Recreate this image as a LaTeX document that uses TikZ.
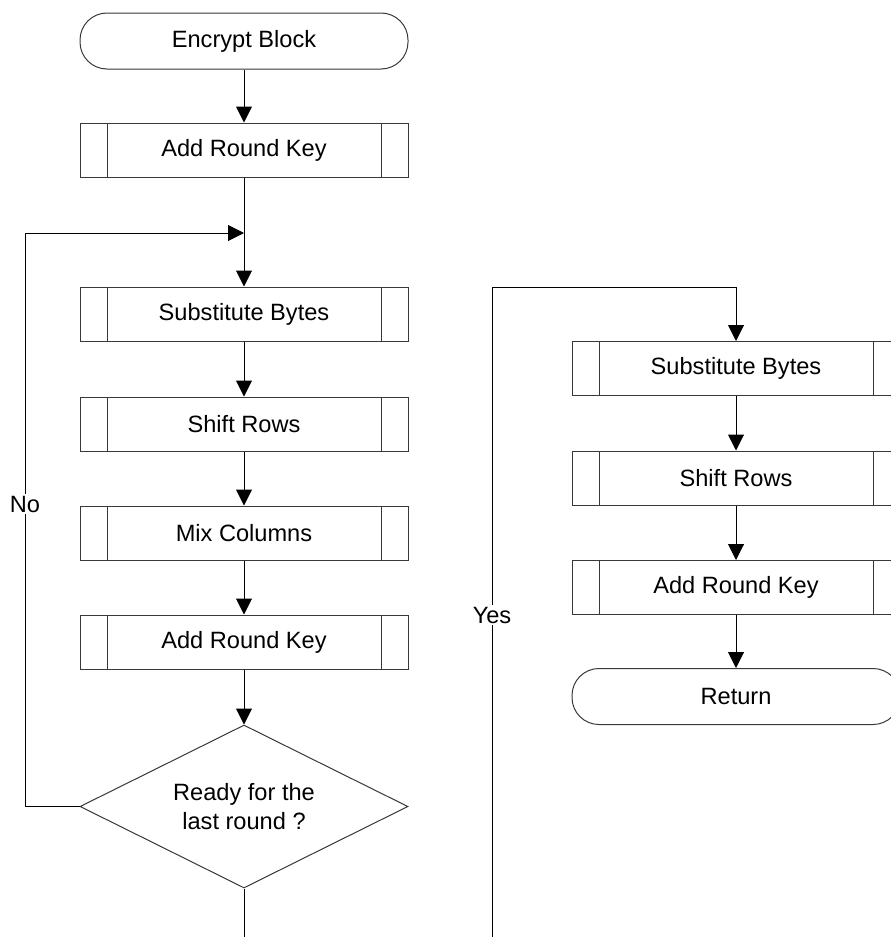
\documentclass[tikz,border=0pt]{standalone}
\usepackage{fontspec}
\setmainfont{Liberation Sans}
\usetikzlibrary{arrows.meta,shapes.geometric}

\definecolor{shapeline}{gray}{0.22}

\tikzset{
  lbl/.style={font=\fontsize{23.6}{28.5}\selectfont, text=black},
  % predefined-process box: rectangle with two inner vertical bars
  proc/.style={lbl, draw=shapeline, line width=1pt, fill=white,
    minimum width=328pt, minimum height=54pt, inner sep=0pt,
    path picture={
      \draw[shapeline, line width=1pt]
        ([xshift=27pt]path picture bounding box.north west) --
        ([xshift=27pt]path picture bounding box.south west)
        ([xshift=-27pt]path picture bounding box.north east) --
        ([xshift=-27pt]path picture bounding box.south east);
    }},
  term/.style={lbl, draw=shapeline, line width=1pt, rounded corners=27pt,
    minimum width=328pt, minimum height=56pt, inner sep=0pt},
  decision/.style={lbl, draw=shapeline, line width=1pt, diamond, aspect=2,
    minimum width=328pt, minimum height=163pt, inner sep=0pt, align=center},
  flow/.style={draw=black, line width=1pt,
    -{Triangle[length=16pt,width=16pt]}},
  plain/.style={draw=black, line width=1pt},
  tag/.style={lbl, fill=white, inner sep=2pt}
}

\begin{document}
\begin{tikzpicture}[x=1pt, y=-1pt]
  \useasboundingbox (0,0) rectangle (891,937);
  \clip (0,0) rectangle (891,937);

  % main round loop
  \node[term] (start) at (244,41) {Encrypt Block};
  \node[proc] (ark1) at (244,150) {Add Round Key};
  \node[proc] (sb1)  at (244,314) {Substitute Bytes};
  \node[proc] (sr1)  at (244,424) {Shift Rows};
  \node[proc] (mc1)  at (244,533) {Mix Columns};
  \node[proc] (ark2) at (244,642) {Add Round Key};
  \node[decision] (dec) at (244,806.5) {Ready for the\\last round ?};

  % final round
  \node[proc] (sb2)  at (736,368.5) {Substitute Bytes};
  \node[proc] (sr2)  at (736,478)   {Shift Rows};
  \node[proc] (ark3) at (736,587.5) {Add Round Key};
  \node[term] (ret)  at (736,696.5) {Return};

  \coordinate (join)     at (244,233);
  \coordinate (nocorner) at (25,233);
  \coordinate (decfoot)  at (244,940);
  \coordinate (yesfoot)  at (492,940);
  \coordinate (yestop)   at (492,287);

  \draw[flow] (start) -- (ark1);
  \draw[flow] (ark1) -- (sb1);
  \draw[flow] (sb1) -- (sr1);
  \draw[flow] (sr1) -- (mc1);
  \draw[flow] (mc1) -- (ark2);
  \draw[flow] (ark2) -- (dec);
  \draw[flow] (dec.west) -| (nocorner) -- (join);
  \draw[plain] (dec.south) -- (decfoot);

  \draw[flow] (yesfoot) -- (yestop) -| (sb2);
  \draw[flow] (sb2) -- (sr2);
  \draw[flow] (sr2) -- (ark3);
  \draw[flow] (ark3) -- (ret);

  \node[tag] (no)  at (25,504)  {No};
  \node[tag] (yes) at (492,615) {Yes};
\end{tikzpicture}
\end{document}
